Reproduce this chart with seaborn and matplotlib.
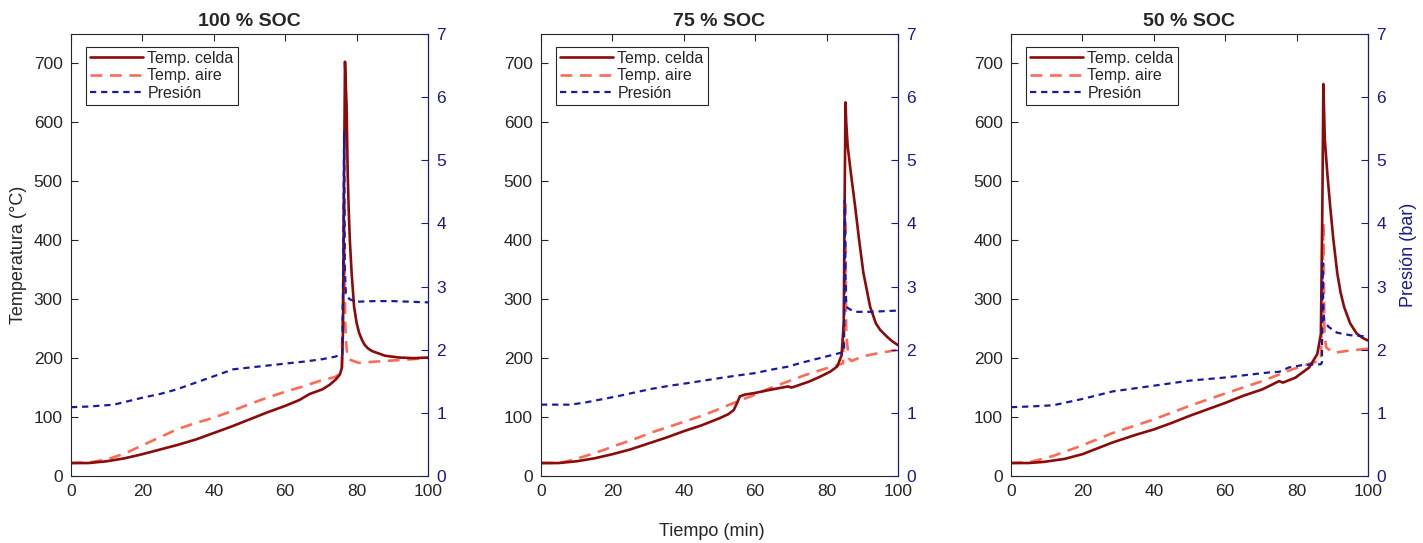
import numpy as np
import pandas as pd
import matplotlib
matplotlib.use("Agg")
import matplotlib.pyplot as plt
import seaborn as sns

# ---------------- data ----------------
titles = ["100 % SOC", "75 % SOC", "50 % SOC"]
legend_labels = ["Temp. celda", "Temp. aire", "Presión"]
temp_ticks = [0, 100, 200, 300, 400, 500, 600, 700]
pres_ticks = [0, 1, 2, 3, 4, 5, 6, 7]
time_ticks = [0, 20, 40, 60, 80, 100]

# 100 % SOC
t_celda_100 = [0, 5, 10, 15, 20, 25, 30, 35, 40, 45, 50, 55, 60, 64, 66.8, 70.4, 72.5, 74.2,
               75.3, 75.9, 76.2, 76.45, 76.75, 77.0, 77.2, 77.5, 77.8, 78.1, 78.6, 79.3, 80.0,
               80.7, 81.5, 82.2, 83.1, 84.3, 85.7, 88, 92, 96, 100]
T_celda_100 = [22, 22, 25, 30, 37, 45, 53, 62, 73, 84, 96, 108, 119, 129, 139, 147, 155, 164,
               172, 184, 250, 480, 703, 660, 627, 515, 450, 401, 345, 287, 260,
               243, 231, 223, 217, 212, 209, 204, 201, 200, 201]
t_aire_100 = [0, 5, 10, 15, 20, 25, 30, 35, 40, 45, 50, 55, 60, 65, 70, 74, 75.8, 76.2, 76.5,
              76.8, 77.2, 77.8, 80.6, 85, 92.7, 100]
T_aire_100 = [22, 23, 28, 38, 52, 66, 80, 90, 99, 110, 122, 133, 143, 152, 162, 168, 175, 300,
              470, 260, 215, 198, 192, 194, 197, 200]
t_pres_100 = [0, 5, 12, 20, 25, 29.5, 35, 40, 45.5, 52, 60, 65, 70.4, 74, 76.0, 76.3, 76.5,
              76.7, 77.0, 78, 80, 85, 90, 100]
P_pres_100 = [1.09, 1.10, 1.13, 1.24, 1.30, 1.37, 1.48, 1.58, 1.69, 1.73, 1.78, 1.81, 1.85,
              1.89, 1.93, 3.6, 5.45, 3.3, 2.88, 2.8, 2.76, 2.77, 2.77, 2.75]

# 75 % SOC
t_celda_75 = [0, 5, 10, 15, 20, 25, 30, 35, 40, 45, 50, 52.5, 54, 55, 55.7, 57, 60, 64, 69.2,
              70.2, 75, 78, 81, 83, 84.2, 84.8, 85.1, 85.3, 85.5, 85.9, 86.8, 88, 89.1, 90.3,
              92.2, 93.8, 95, 96.8, 98.3, 100]
T_celda_75 = [22, 22, 25, 30, 37, 45, 55, 65, 76, 86, 98, 105, 112, 125, 135, 138, 141, 146, 152,
              150, 160, 168, 177, 186, 205, 260, 500, 634, 600, 560, 514, 457, 401, 345,
              287, 259, 248, 237, 229, 222]
t_aire_75 = [0, 5, 8, 12, 17.5, 22, 26.8, 31, 36.1, 41, 45.5, 50, 54.8, 60, 64.1, 69, 73.4, 79,
             84.6, 85.0, 85.2, 85.5, 86.2, 87, 90, 95, 100]
T_aire_75 = [22, 22, 26, 33, 44, 54, 64, 74, 84, 94, 103, 114, 126, 138, 149, 160, 170, 181,
             191, 300, 469, 240, 200, 195, 203, 209, 214]
t_pres_75 = [0, 8.2, 12, 17.5, 22, 26.8, 31, 36.1, 41, 45.5, 50, 54.8, 60, 64.1, 69, 73.4, 79,
             84.6, 84.9, 85.1, 85.3, 85.5, 86.5, 88, 92, 96, 100]
P_pres_75 = [1.13, 1.13, 1.16, 1.22, 1.27, 1.33, 1.38, 1.43, 1.47, 1.51, 1.55, 1.59, 1.63, 1.68,
             1.73, 1.80, 1.88, 1.96, 2.0, 4.37, 3.2, 2.68, 2.64, 2.6, 2.6, 2.61, 2.62]

# 50 % SOC
t_celda_50 = [0, 5, 9.3, 15, 20, 28.5, 35, 40, 45, 50, 55, 60, 65, 70.4, 75.1, 76.2, 79.7, 83.5,
              85.8, 86.8, 87.2, 87.5, 87.9, 88.6, 89.4, 90.3, 91.4, 92.3, 93.3, 95, 96.8, 98.3,
              99.6, 100]
T_celda_50 = [22, 22, 24, 29, 37, 57, 70, 79, 90, 102, 113, 124, 136, 147, 161, 158.5, 167, 184,
              207, 241, 450, 665, 571, 514, 458, 401, 344, 312, 287, 259, 242, 235,
              231, 230]
t_aire_50 = [0, 5, 11.8, 20, 28.5, 40, 50, 60, 70.4, 78.8, 84.4, 86.8, 87.2, 87.5, 87.8, 88.3,
             90.3, 95, 100]
T_aire_50 = [22, 23, 34, 52, 73, 96, 119, 140, 161, 181, 192, 196, 300, 430, 240, 218,
             209, 213, 216]
t_pres_50 = [0, 5, 11.8, 20, 28.5, 40, 50, 60, 66, 72.3, 75.1, 77.9, 82, 86.8, 87.1, 87.3, 87.5,
             87.8, 89, 91.3, 95, 100]
P_pres_50 = [1.09, 1.10, 1.12, 1.22, 1.34, 1.43, 1.51, 1.56, 1.60, 1.64, 1.65, 1.72, 1.76, 1.77,
             1.80, 3.37, 2.6, 2.45, 2.36, 2.27, 2.23, 2.21]

panels = [
    (t_celda_100, T_celda_100, t_aire_100, T_aire_100, t_pres_100, P_pres_100),
    (t_celda_75, T_celda_75, t_aire_75, T_aire_75, t_pres_75, P_pres_75),
    (t_celda_50, T_celda_50, t_aire_50, T_aire_50, t_pres_50, P_pres_50),
]

# ---------------- style ----------------
sns.set_style("white")
plt.rcParams["font.family"] = ["Liberation Sans", "DejaVu Sans"]
plt.rcParams["lines.scale_dashes"] = False

c_celda = "#8c0a0a"
c_aire = "#ff6a55"
c_pres = "#1a1aa0"
c_axis_r = "#1a1a90"

fig = plt.figure(figsize=(14.23, 5.43), dpi=100)
lefts = [71, 541, 1011]
W, H = 1423, 543
ax_w = 357 / W
ax_b = 1 - 476 / H
ax_h = (476 - 34) / H

for i, (tc, Tc, ta, Ta, tp, Pp) in enumerate(panels):
    ax = fig.add_axes([lefts[i] / W, ax_b, ax_w, ax_h])
    ax2 = ax.twinx()
    df_c = pd.DataFrame({"t": tc, "v": Tc})
    df_a = pd.DataFrame({"t": ta, "v": Ta})
    df_p = pd.DataFrame({"t": tp, "v": Pp})
    sns.lineplot(data=df_a, x="t", y="v", ax=ax, color=c_aire, lw=1.9,
                 linestyle=(0, (8.5, 5.5)), estimator=None, sort=False, errorbar=None)
    sns.lineplot(data=df_c, x="t", y="v", ax=ax, color=c_celda, lw=1.9,
                 estimator=None, sort=False, errorbar=None)
    sns.lineplot(data=df_p, x="t", y="v", ax=ax2, color=c_pres, lw=1.6,
                 linestyle=(0, (4.5, 3.5)), estimator=None, sort=False, errorbar=None)

    ax.set_xlim(0, 100)
    ax.set_ylim(0, 750)
    ax2.set_ylim(0, 7)
    ax.set_xticks(time_ticks)
    ax.set_yticks(temp_ticks)
    ax2.set_yticks(pres_ticks)
    ax.set_xlabel("")
    ax.set_ylabel("")
    ax2.set_ylabel("")

    ax.tick_params(axis="both", direction="in", length=5, width=0.8, labelsize=12.5,
                   colors="#262626", top=True, right=False, pad=6)
    ax2.tick_params(axis="y", direction="in", length=5, width=0.8, labelsize=12.5,
                    colors=c_axis_r, pad=6)
    for s in ["left", "top", "bottom"]:
        ax.spines[s].set_color("#262626")
        ax.spines[s].set_linewidth(0.8)
    ax2.spines["right"].set_color(c_axis_r)
    ax2.spines["right"].set_linewidth(0.9)
    ax2.spines["left"].set_visible(False)
    ax2.spines["top"].set_visible(False)
    ax2.spines["bottom"].set_visible(False)
    ax.spines["right"].set_visible(False)

    ax.set_title(titles[i], fontsize=14, fontweight="bold", pad=6)

    handles = [ax.lines[1], ax.lines[0], ax2.lines[0]]
    leg = ax2.legend(handles, legend_labels, loc="upper left",
                     bbox_to_anchor=(15 / 357, 1 - 13 / 442), borderaxespad=0,
                     fontsize=11.5, frameon=True, fancybox=False, framealpha=1,
                     edgecolor="#262626", handlelength=3.3, handletextpad=0.3,
                     labelspacing=0.15, borderpad=0.25)
    leg.get_frame().set_linewidth(0.8)

    if i == 0:
        ax.set_ylabel("Temperatura (°C)", fontsize=13, color="#262626", labelpad=5)
    if i == 2:
        ax2.set_ylabel("Presión (bar)", fontsize=13, color=c_axis_r, labelpad=10)

fig.text(0.5, 1 - 532 / H, "Tiempo (min)", ha="center", va="center", fontsize=13,
         color="#262626")

fig.savefig("out.png", dpi=100)
